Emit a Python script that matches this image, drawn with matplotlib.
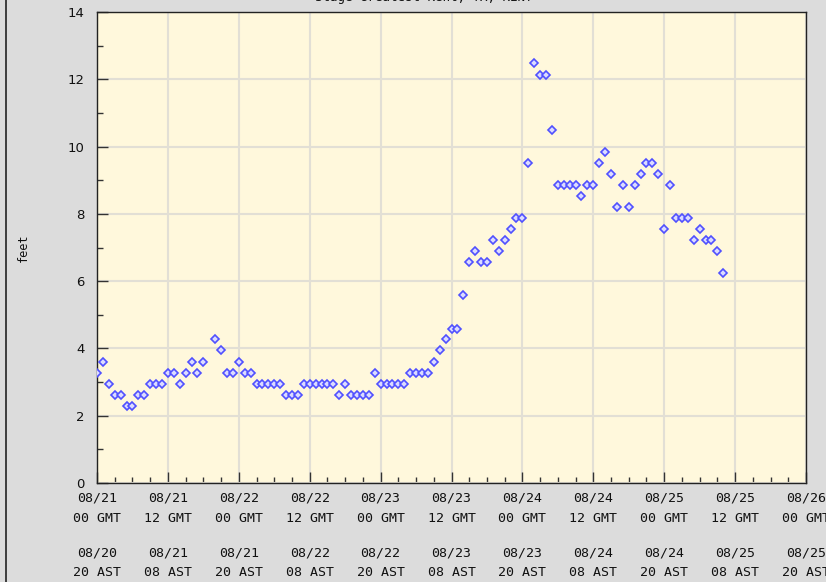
import matplotlib
matplotlib.use("Agg")
import matplotlib.pyplot as plt
from matplotlib.lines import Line2D
from matplotlib.transforms import blended_transform_factory

# Hours since 08/21 00 GMT (hourly observations; hour 19 missing)
hours = [0, 1, 2, 3, 4, 5, 6, 7, 8, 9, 10, 11, 12, 13, 14, 15, 16, 17, 18,
         20, 21, 22, 23, 24, 25, 26, 27, 28, 29, 30, 31, 32, 33, 34, 35, 36,
         37, 38, 39, 40, 41, 42, 43, 44, 45, 46, 47, 48, 49, 50, 51, 52, 53,
         54, 55, 56, 57, 58, 59, 60, 61, 62, 63, 64, 65, 66, 67, 68, 69, 70,
         71, 72, 73, 74, 75, 76, 77, 78, 79, 80, 81, 82, 83, 84, 85, 86, 87,
         88, 89, 90, 91, 92, 93, 94, 95, 96, 97, 98, 99, 100, 101, 102, 103,
         104, 105, 106]

stage_ft = [3.28, 3.61, 2.95, 2.62, 2.62, 2.30, 2.30, 2.62, 2.62, 2.95, 2.95,
            2.95, 3.28, 3.28, 2.95, 3.28, 3.61, 3.28, 3.61,
            4.27, 3.94, 3.28, 3.28, 3.61, 3.28, 3.28, 2.95, 2.95, 2.95, 2.95,
            2.95, 2.62, 2.62, 2.62, 2.95, 2.95, 2.95, 2.95, 2.95, 2.95, 2.62,
            2.95, 2.62, 2.62, 2.62, 2.62, 3.28, 2.95, 2.95, 2.95, 2.95, 2.95,
            3.28, 3.28, 3.28, 3.28, 3.61, 3.94, 4.27, 4.59, 4.59, 5.58, 6.56,
            6.89, 6.56, 6.56, 7.22, 6.89, 7.22, 7.55, 7.87, 7.87, 9.51, 12.47,
            12.14, 12.14, 10.50, 8.86, 8.86, 8.86, 8.86, 8.53, 8.86, 8.86,
            9.51, 9.84, 9.19, 8.20, 8.86, 8.20, 8.86, 9.19, 9.51, 9.51, 9.19,
            7.55, 8.86, 7.87, 7.87, 7.87, 7.22, 7.55, 7.22, 7.22, 6.89, 6.23]

tick_hours = [0, 12, 24, 36, 48, 60, 72, 84, 96, 108, 120]
gmt_labels = ["08/21\n00 GMT", "08/21\n12 GMT", "08/22\n00 GMT", "08/22\n12 GMT",
              "08/23\n00 GMT", "08/23\n12 GMT", "08/24\n00 GMT", "08/24\n12 GMT",
              "08/25\n00 GMT", "08/25\n12 GMT", "08/26\n00 GMT"]
ast_labels = ["08/20\n20 AST", "08/21\n08 AST", "08/21\n20 AST", "08/22\n08 AST",
              "08/22\n20 AST", "08/23\n08 AST", "08/23\n20 AST", "08/24\n08 AST",
              "08/24\n20 AST", "08/25\n08 AST", "08/25\n20 AST"]
y_ticks = [0, 2, 4, 6, 8, 10, 12, 14]

W, H = 826, 582
fig = plt.figure(figsize=(W / 100, H / 100), dpi=100, facecolor="#dcdcdc")
ax = fig.add_axes([97 / W, 1 - 483 / H, (806 - 97) / W, (483 - 12) / H])
ax.set_facecolor("#fff8dc")

ax.set_xlim(0, 120)
ax.set_ylim(0, 14)

lab_font = dict(family="DejaVu Sans Mono", fontsize=9.5, color="#111111")
ax.set_xticks(tick_hours)
ax.set_xticklabels(gmt_labels, linespacing=1.75, **lab_font)
ax.set_xticks(list(range(0, 121, 3)), minor=True)
ax.set_yticks(y_ticks)
ax.set_yticklabels([str(v) for v in y_ticks], family="DejaVu Sans",
                   fontsize=9.5, color="#111111")
ax.set_yticks(list(range(1, 14, 2)), minor=True)

ax.tick_params(axis="both", which="major", direction="in", length=8,
               width=1, color="#333333")
ax.tick_params(axis="both", which="minor", direction="in", length=4,
               width=1, color="#333333")
ax.tick_params(axis="x", which="major", pad=6)
ax.tick_params(axis="y", which="major", pad=9)

# second row of time labels (local time)
trans = blended_transform_factory(ax.transData, fig.transFigure)
for th, lab in zip(tick_hours, ast_labels):
    ax.text(th, 1 - 547 / H, lab, transform=trans, ha="center", va="top",
            linespacing=1.6, clip_on=False, **lab_font)

ax.grid(True, which="major", color="#e2dfd5", linewidth=1.5)
ax.set_axisbelow(True)
for s in ax.spines.values():
    s.set_color("#222222")
    s.set_linewidth(1.0)

ax.plot(hours, stage_ft, linestyle="none", marker="D", markersize=4.2,
        markerfacecolor="#dcdcff", markeredgecolor="#5050ff",
        markeredgewidth=1.2, zorder=3)

ax.set_ylabel("feet", family="DejaVu Sans Mono", fontsize=8.5, color="#111111")
ax.yaxis.set_label_coords(-67 / 709, 0.5)

# partially visible title (cut off at the top of the image)
fig.text(424 / W, 1 + 2 / H, "Stage Greatest Kent, TX, KENT",
         ha="center", va="center", family="DejaVu Sans Mono", fontsize=9,
         color="#111111")

# left border of the original frame
fig.add_artist(Line2D([5.5 / W, 5.5 / W], [0, 1], transform=fig.transFigure,
                      color="#222222", linewidth=1.2))

fig.savefig("out.png", dpi=100, facecolor=fig.get_facecolor())
